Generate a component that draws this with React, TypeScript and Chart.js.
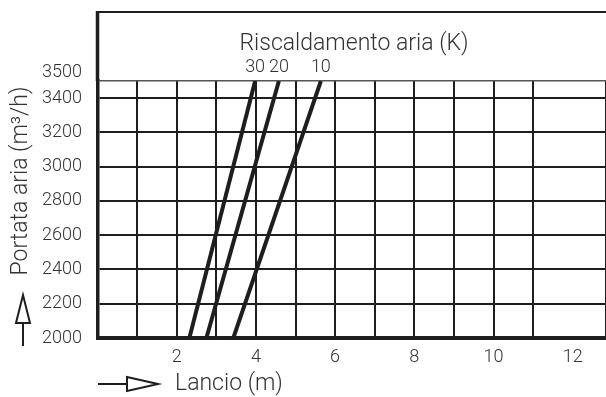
import React, { useEffect, useRef } from "react";
import { Chart, registerables } from "chart.js";

Chart.register(...registerables);

// Data
const seriesLabels = ["30", "20", "10"];
const flowRange = [2000, 3500];
const lancioAtMinFlow = [2.32, 2.75, 3.43];
const lancioAtMaxFlow = [3.98, 4.58, 5.64];
const yTickValues = [2000, 2200, 2400, 2600, 2800, 3000, 3200, 3400, 3500];
const xTickLabelValues = [2, 4, 6, 8, 10, 12];
const chartTitle = "Riscaldamento aria (K)";
const xTitle = "Lancio (m)";
const yTitle = "Portata aria (m³/h)";

const INK = "#1e1e1e";
const TEXT = "#333333";
const FONT = "Roboto, 'Liberation Sans', sans-serif";

const decorPlugin = {
  id: "decor",
  afterDraw(chart: any) {
    const { ctx, chartArea, scales } = chart;
    const xs = scales.x;
    const ys = scales.y;
    const left = chartArea.left;
    const frameTop = 12;
    ctx.save();
    // frame: left extension and top line
    ctx.strokeStyle = INK;
    ctx.lineWidth = 3.5;
    ctx.beginPath();
    ctx.moveTo(left, chartArea.top);
    ctx.lineTo(left, frameTop - 1);
    ctx.stroke();
    ctx.lineWidth = 2;
    ctx.beginPath();
    ctx.moveTo(left - 1.5, frameTop);
    ctx.lineTo(chart.width, frameTop);
    ctx.stroke();

    // title
    ctx.fillStyle = TEXT;
    ctx.font = `300 23px ${FONT}`;
    ctx.textAlign = "center";
    ctx.textBaseline = "middle";
    ctx.fillText(chartTitle, 354, 44);

    // series labels
    ctx.font = `300 18px ${FONT}`;
    chart.data.datasets.forEach((ds: any, i: number) => {
      const meta = chart.getDatasetMeta(i);
      const last = meta.data[meta.data.length - 1];
      ctx.fillText(ds.label, last.x, chartArea.top - 14);
    });

    // y tick labels
    ctx.textAlign = "right";
    yTickValues.forEach((v) => {
      let y = ys.getPixelForValue(v);
      if (v === 3500) y -= 9;
      ctx.fillText(String(v), 82, y);
    });

    // x tick labels
    ctx.textAlign = "center";
    xTickLabelValues.forEach((v) => {
      ctx.fillText(String(v), xs.getPixelForValue(v), 357);
    });

    // x title + arrow
    ctx.font = `300 23px ${FONT}`;
    ctx.textAlign = "left";
    ctx.fillText(xTitle, 175, 384);
    ctx.lineWidth = 2;
    ctx.strokeStyle = INK;
    ctx.beginPath();
    ctx.moveTo(98, 384);
    ctx.lineTo(127, 384);
    ctx.stroke();
    ctx.beginPath();
    ctx.moveTo(127, 377);
    ctx.lineTo(158, 384);
    ctx.lineTo(127, 391);
    ctx.closePath();
    ctx.stroke();

    // y title + arrow
    ctx.save();
    ctx.translate(21, 181);
    ctx.rotate(-Math.PI / 2);
    ctx.textAlign = "center";
    ctx.fillText(yTitle, 0, 0);
    ctx.restore();
    ctx.beginPath();
    ctx.moveTo(23, 346);
    ctx.lineTo(23, 323);
    ctx.stroke();
    ctx.beginPath();
    ctx.moveTo(16, 323);
    ctx.lineTo(23, 295);
    ctx.lineTo(30, 323);
    ctx.closePath();
    ctx.stroke();
    ctx.restore();
  },
};

export default function App() {
  const ref = useRef<HTMLCanvasElement | null>(null);
  useEffect(() => {
    if (!ref.current) return;
    const datasets = seriesLabels.map((label, i) => ({
      label,
      data: [
        { x: lancioAtMinFlow[i], y: flowRange[0] },
        { x: lancioAtMaxFlow[i], y: flowRange[1] },
      ],
      showLine: true,
      borderColor: INK,
      backgroundColor: INK,
      borderWidth: 4,
      pointRadius: 0,
      borderCapStyle: "butt",
    }));
    const chart = new Chart(ref.current, {
      type: "scatter",
      data: { datasets } as any,
      options: {
        animation: false,
        responsive: false,
        maintainAspectRatio: false,
        layout: { padding: { left: 97.5, top: 81, right: 0, bottom: 59 } },
        plugins: { legend: { display: false }, tooltip: { enabled: false }, title: { display: false } },
        scales: {
          x: {
            type: "linear",
            min: 0,
            max: 12.84,
            ticks: { display: false, stepSize: 1 },
            grid: { color: INK, lineWidth: 2, drawTicks: false },
            border: { color: INK, width: 4 },
          },
          y: {
            type: "linear",
            min: 2000,
            max: 3500,
            afterBuildTicks: (scale: any) => {
              scale.ticks = yTickValues.map((v) => ({ value: v }));
            },
            ticks: { display: false },
            grid: {
              color: (c: any) => (c.tick && c.tick.value === 3500 ? "#555" : INK),
              lineWidth: (c: any) => (c.tick && c.tick.value === 3500 ? 1.5 : 2),
              drawTicks: false,
            },
            border: { color: INK, width: 3.5 },
          },
        },
      } as any,
      plugins: [decorPlugin],
    });
    return () => chart.destroy();
  }, []);
  return (
    <div style={{ position: "absolute", left: 0, top: 0, width: 606, height: 397, background: "#fff" }}>
      <canvas ref={ref} width={606} height={397} style={{ width: 606, height: 397, display: "block" }} />
    </div>
  );
}
